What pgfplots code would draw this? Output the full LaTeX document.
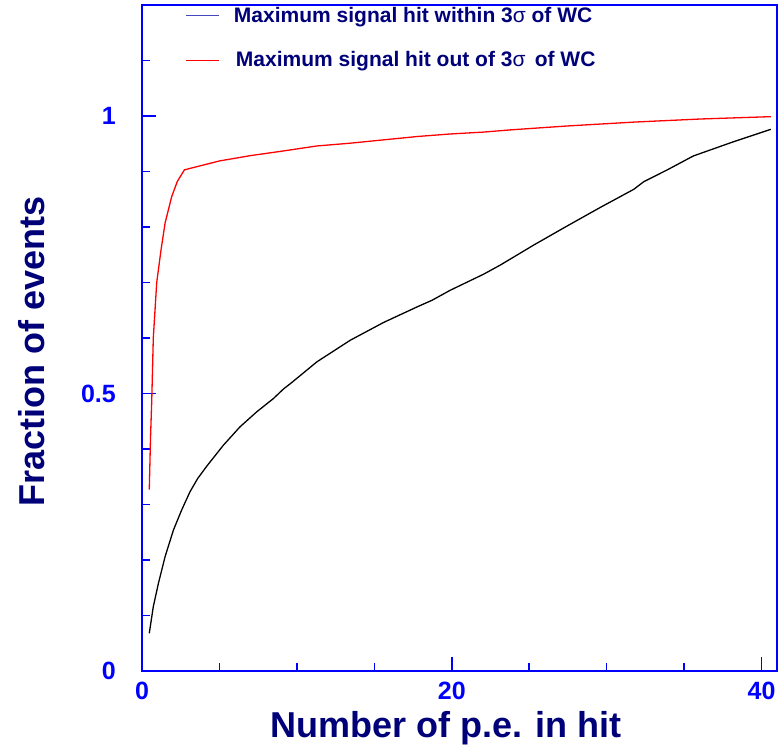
\documentclass[border=0pt]{standalone}
\usepackage{fontspec}
\setmainfont{Liberation Sans}
\usepackage{pgfplots}
\pgfplotsset{compat=1.18}
\definecolor{tickblue}{RGB}{0,0,255}
\definecolor{labnavy}{RGB}{0,0,120}
\definecolor{legblue}{RGB}{70,70,190}
\begin{document}
\begin{tikzpicture}
\begin{axis}[
  scale only axis, width=635pt, height=666pt,
  xmin=0, xmax=41, ymin=0, ymax=1.2,
  axis line style={tickblue, line width=2pt},
  xtick={0,20,40}, minor xtick={5,10,15,25,30,35},
  ytick={0,0.5,1}, minor ytick={0.1,0.2,0.3,0.4,0.6,0.7,0.8,0.9,1.1},
  tick pos=left, tick align=inside,
  major tick length=14pt, minor tick length=8pt,
  every tick/.style={tickblue, line width=1.5pt},
  /pgf/number format/assume math mode=true,
  ticklabel style={font=\fontsize{25}{26}\selectfont\bfseries, text=tickblue},
  yticklabel style={anchor=east, inner sep=0pt, xshift=-26pt},
  xticklabel style={anchor=north, inner sep=0pt, yshift=-11pt},
  label style={font=\fontsize{36}{40}\selectfont\bfseries, text=labnavy},
  xlabel={Number of p.e. in hit},
  ylabel={Fraction of events},
  xlabel style={at={([yshift=-67pt]axis description cs:0.479,0)}, anchor=base},
  ylabel style={at={([xshift=-97pt]axis description cs:0,0.48)}, anchor=base},
  legend style={at={([xshift=44pt,yshift=-2pt]axis description cs:0,1)}, anchor=north west,
    draw=none, fill=none, inner sep=0pt, outer sep=0pt,
    font=\fontsize{21}{23}\selectfont\bfseries, text=labnavy,
    row sep=28pt, nodes={inner sep=0pt}},
  legend cell align=left,
  legend image code/.code={\draw[#1, line width=1pt] (0pt,0pt) -- (33pt,0pt);},
]
\addlegendimage{legblue}
\addlegendentry{\hspace{14pt}Maximum signal hit within 3{\mdseries σ} of WC}
\addlegendimage{red}
\addlegendentry{\hspace{16pt}Maximum signal hit out of 3{\mdseries σ}\, of WC}

\addplot[black, line width=1.3pt, forget plot] coordinates {
(0.47,0.068) (0.73,0.116) (1.06,0.158) (1.49,0.206) (2.03,0.254)
(2.56,0.290) (3.10,0.323) (3.60,0.347) (4.18,0.369) (5.26,0.407) (6.33,0.440)
(7.41,0.467) (8.49,0.491) (9.13,0.508) (9.68,0.520) (11.29,0.557)
(13.45,0.596) (15.60,0.628) (17.76,0.656) (18.73,0.668) (19.90,0.686)
(22.06,0.715) (23.14,0.7315) (25.30,0.7676) (27.45,0.8018) (29.60,0.8354)
(31.76,0.868) (32.40,0.8817) (33.90,0.9027) (35.60,0.928) (38.20,0.9537)
(40.60,0.976)
};
\addplot[red, line width=1.3pt, forget plot] coordinates {
(0.47,0.327) (0.55,0.420) (0.63,0.488) (0.73,0.600) (0.95,0.700)
(1.23,0.759) (1.49,0.807) (1.92,0.855) (2.28,0.882) (2.74,0.903)
(5.00,0.919) (6.98,0.9285) (9.13,0.937) (11.29,0.946) (13.45,0.951)
(15.60,0.957) (17.76,0.963) (19.90,0.9676) (22.06,0.971) (23.80,0.975)
(27.45,0.982) (31.76,0.989) (36.07,0.9946) (40.60,0.9988)
};
\end{axis}
\pgfresetboundingbox
\path (-142pt,-75pt) rectangle (637pt,671pt);
\end{tikzpicture}
\end{document}
